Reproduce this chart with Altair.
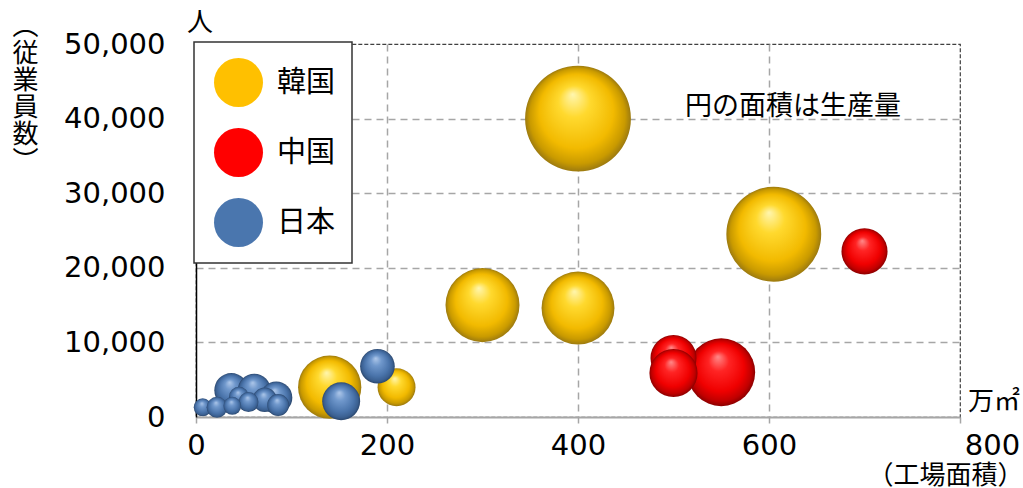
import altair as alt
import pandas as pd

# ---- data ----
korea_x = [400, 605, 300, 400, 140, 210]
korea_y = [40000, 24500, 15000, 14600, 4000, 4000]
korea_prod = [2800, 2250, 1370, 1330, 1000, 360]

china_x = [550, 700, 500, 500]
china_y = [6000, 22200, 7900, 5900]
china_prod = [1150, 530, 530, 580]

japan_x = [152, 190, 37, 61, 84, 72, 45, 55, 86, 7, 22, 38]
japan_y = [2100, 6800, 3600, 3600, 2600, 2300, 2700, 2000, 1600, 1300, 1300, 1500]
japan_prod = [360, 300, 290, 270, 260, 150, 100, 100, 120, 80, 110, 80]

countries = ["韓国", "中国", "日本"]
flat_colors = ["#FFC000", "#FF0000", "#4A76AE"]

x_ticks = [0, 200, 400, 600, 800]
y_ticks = [0, 10000, 20000, 30000, 40000, 50000]

rows = []
for name, xs, ys, ps in [("韓国", korea_x, korea_y, korea_prod),
                         ("中国", china_x, china_y, china_prod),
                         ("日本", japan_x, japan_y, japan_prod)]:
    for i, (a, b, p) in enumerate(zip(xs, ys, ps)):
        rows.append({"country": name, "area": a, "staff": b, "prod": p, "idx": i})
df = pd.DataFrame(rows)

JP = "Noto Sans CJK JP"
NUM = "DejaVu Sans"

x_enc = alt.X("area:Q", scale=alt.Scale(domain=[0, 800], nice=False),
              axis=alt.Axis(values=x_ticks, format="d", labelFont=NUM, labelFontSize=29,
                            labelColor="black", labelPadding=8, labelFlush=False,
                            labelOffset={"expr": "datum.value == 800 ? 32 : 0"},
                            tickSize=6, tickColor="#a6a6a6", tickWidth=1.5,
                            domainColor="#a6a6a6", domainWidth=2,
                            grid=True, gridDash=[7, 5], gridColor="#a6a6a6", gridWidth=1.5,
                            gridOpacity={"expr": "datum.value == 0 || datum.value == 800 ? 0 : 1"},
                            title="（工場面積）", titleAngle=0, titleX=749, titleY=58,
                            titleAlign="center", titleBaseline="middle",
                            titleFont=JP, titleFontSize=26, titleFontWeight="normal",
                            titleColor="black"))
y_enc = alt.Y("staff:Q", scale=alt.Scale(domain=[0, 50000], nice=False),
              axis=alt.Axis(values=y_ticks, format=",d", labelFont=NUM, labelFontSize=29,
                            labelColor="black", labelPadding=31, ticks=False,
                            domainColor="black", domainWidth=1.5,
                            grid=True, gridDash=[7, 5], gridColor="#a6a6a6", gridWidth=1.5,
                            gridOpacity={"expr": "datum.value == 0 || datum.value == 50000 ? 0 : 1"},
                            title=["︵", "従", "業", "員", "数", "︶"], titleAngle=0,
                            titleX=-171, titleY=-31, titleAlign="center", titleBaseline="top",
                            titleFont=JP, titleFontSize=26, titleFontWeight="normal",
                            titleLineHeight=27, titleColor="black"))
# Vega symbol size is the area of the bounding square: diameter = sqrt(size)
size_enc = alt.Size("prod:Q", scale=alt.Scale(domain=[0, 1000], range=[0, 4000], zero=True),
                    legend=None)

base = alt.Chart(df)

legend_layer = base.mark_circle(opacity=0).encode(
    x=x_enc, y=y_enc, size=size_enc,
    color=alt.Color("country:N", scale=alt.Scale(domain=countries, range=flat_colors),
                    legend=alt.Legend(title=None, orient="none", legendX=-2, legendY=-2,
                                      symbolType="circle", symbolSize=2401, symbolOpacity=1,
                                      symbolStrokeWidth=0, symbolOffset=4,
                                      labelFont=JP, labelFontSize=29, labelColor="black",
                                      labelOffset=14, rowPadding=21, padding=16,
                                      strokeColor="#333333", fillColor="white")),
)


def grad(stops):
    return alt.RadialGradient(
        gradient="radial", x1=0.45, y1=0.27, r1=0, x2=0.5, y2=0.5, r2=0.5,
        stops=[alt.GradientStop(offset=o, color=c) for o, c in stops])


grads = {
    "韓国": grad([(0, "#FFF6B0"), (0.3, "#FFD92E"), (0.7, "#F2BA00"), (0.9, "#C99A00"), (1, "#9C7A10")]),
    "中国": grad([(0, "#FF8A8A"), (0.3, "#FF2424"), (0.7, "#F00000"), (0.9, "#C00000"), (1, "#8C0000")]),
    "日本": grad([(0, "#AFC8EA"), (0.3, "#7098CC"), (0.7, "#4A74AB"), (0.9, "#3A5F90"), (1, "#2A466C")]),
}

bubble_layers = []
for c in countries:
    bubble_layers.append(
        base.transform_filter(alt.datum.country == c).mark_circle(
            fill=grads[c], opacity=1, strokeWidth=0
        ).encode(x=x_enc, y=y_enc, size=size_enc, order=alt.Order("idx:Q"))
    )


def label(txt, xv, yv, size, align="center"):
    return alt.Chart(alt.Data(values=[{}])).mark_text(
        font=JP, fontSize=size, color="black", align=align, baseline="middle"
    ).encode(x=alt.value(xv), y=alt.value(yv), text=alt.value(txt))


texts = [
    label("人", 4, -21, 26),
    label("万㎡", 798, 358, 26),
    label("円の面積は生産量", 597, 63, 27),
]

chart = alt.layer(legend_layer, *bubble_layers, *texts).properties(
    width=764, height=373,
    autosize=alt.AutoSizeParams(type="none"),
    padding={"left": 196, "top": 44, "right": 63, "bottom": 71},
    background="white",
).configure_view(stroke="#404040", strokeWidth=1.2, strokeDash=[4, 2]
).configure_legend(strokeWidth=1.5)

chart.save("out.html", embed_options={"renderer": "svg", "actions": False})
